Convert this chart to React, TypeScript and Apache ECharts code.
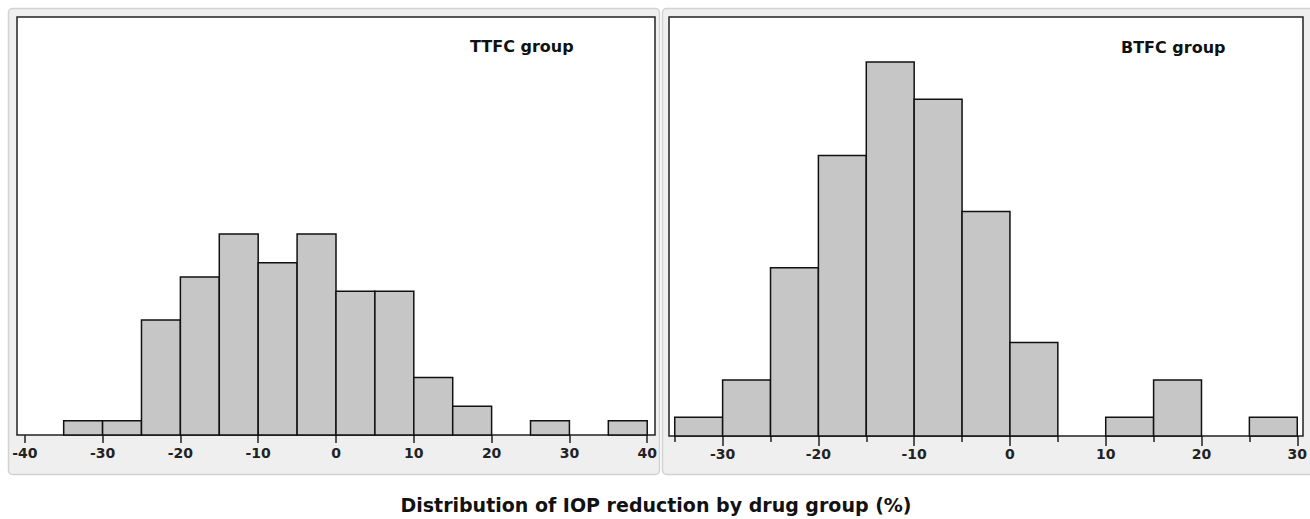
import React, { useEffect, useRef } from "react";
import * as echarts from "echarts";

const ttfcBinStarts = [-35, -30, -25, -20, -15, -10, -5, 0, 5, 10, 15, 20, 25, 30, 35];
const ttfcCounts = [1, 1, 8, 11, 14, 12, 14, 10, 10, 4, 2, 0, 1, 0, 1];
const btfcBinStarts = [-35, -30, -25, -20, -15, -10, -5, 0, 5, 10, 15, 20, 25];
const btfcCounts = [1, 3, 9, 15, 20, 18, 12, 5, 0, 1, 3, 0, 1];
const binWidth = 5;
const ttfcTicks = [-40, -30, -20, -10, 0, 10, 20, 30, 40];
const btfcTicks = [-30, -20, -10, 0, 10, 20, 30];
const btfcMinorTicks = [-35, -25, -15, -5, 5, 15, 25];
const panelTitles = ["TTFC group", "BTFC group"];
const mainTitle = "Distribution of IOP reduction by drug group (%)";

const FONT = "'DejaVu Sans', Verdana, sans-serif";

function histData(starts: number[], counts: number[]) {
  return starts.map((s, i) => [s, s + binWidth, counts[i]]);
}

function renderBar(params: any, api: any) {
  const x0 = api.value(0);
  const x1 = api.value(1);
  const c = api.value(2);
  if (!c) return null;
  const p0 = api.coord([x0, c]);
  const p1 = api.coord([x1, 0]);
  return {
    type: "rect",
    shape: { x: p0[0], y: p0[1], width: p1[0] - p0[0], height: p1[1] - p0[1] },
    style: { fill: "#c6c6c6", stroke: "#111", lineWidth: 1.5 },
  };
}

export default function App() {
  const ref = useRef<HTMLDivElement>(null);
  useEffect(() => {
    document.body.style.margin = "0";
    const chart = echarts.init(ref.current!, null, { renderer: "svg" });
    const labelStyle = {
      fontFamily: FONT,
      fontWeight: "bold" as const,
      fontSize: 14,
      color: "#222",
      margin: 11,
    };
    chart.setOption({
      animation: false,
      backgroundColor: "#ffffff",
      graphic: [
        {
          type: "rect",
          z: -10,
          shape: { x: 8.5, y: 8.5, width: 651, height: 466, r: 4 },
          style: { fill: "#efefef", stroke: "#d2d2d2", lineWidth: 1.5 },
        },
        {
          type: "rect",
          z: -10,
          shape: { x: 662.5, y: 8.5, width: 652, height: 466, r: 4 },
          style: { fill: "#efefef", stroke: "#d2d2d2", lineWidth: 1.5 },
        },
        {
          type: "text",
          z: 10,
          x: 470,
          y: 46,
          style: {
            text: panelTitles[0],
            font: `bold 16px ${FONT}`,
            fill: "#111",
            textVerticalAlign: "middle",
          },
        },
        {
          type: "text",
          z: 10,
          x: 1121,
          y: 47,
          style: {
            text: panelTitles[1],
            font: `bold 16px ${FONT}`,
            fill: "#111",
            textVerticalAlign: "middle",
          },
        },
        {
          type: "text",
          x: 656,
          y: 505,
          style: {
            text: mainTitle,
            font: `bold 19px ${FONT}`,
            fill: "#111",
            textAlign: "center",
            textVerticalAlign: "middle",
          },
        },
      ],
      grid: [
        {
          left: 17,
          top: 17,
          width: 638,
          height: 418,
          show: true,
          backgroundColor: "#ffffff",
          borderColor: "#222",
          borderWidth: 1.5,
        },
        {
          left: 669,
          top: 17,
          width: 636,
          height: 419,
          show: true,
          backgroundColor: "#ffffff",
          borderColor: "#222",
          borderWidth: 1.5,
        },
      ],
      xAxis: [
        {
          type: "value",
          gridIndex: 0,
          position: "bottom",
          min: -41,
          max: 41,
          splitLine: { show: false },
          axisLine: { show: false },
          axisTick: {
            show: true,
            length: 8,
            customValues: ttfcTicks,
            lineStyle: { color: "#222", width: 1.5 },
          },
          axisLabel: { ...labelStyle, customValues: ttfcTicks },
        },
        {
          type: "value",
          gridIndex: 1,
          position: "bottom",
          min: -35.6,
          max: 30.6,
          splitLine: { show: false },
          axisLine: { show: false },
          axisTick: {
            show: true,
            length: 10,
            customValues: btfcTicks,
            lineStyle: { color: "#222", width: 1.5 },
          },
          axisLabel: { ...labelStyle, customValues: btfcTicks },
        },
        {
          type: "value",
          gridIndex: 1,
          position: "bottom",
          offset: 0,
          min: -35.6,
          max: 30.6,
          splitLine: { show: false },
          axisLine: { show: false },
          axisTick: {
            show: true,
            length: 6,
            customValues: btfcMinorTicks,
            lineStyle: { color: "#222", width: 1.5 },
          },
          axisLabel: { show: false },
        },
      ],
      yAxis: [
        { type: "value", gridIndex: 0, min: 0, max: 29.1, show: false, splitLine: { show: false } },
        { type: "value", gridIndex: 1, min: 0, max: 22.4, show: false, splitLine: { show: false } },
      ],
      series: [
        {
          type: "custom",
          xAxisIndex: 0,
          yAxisIndex: 0,
          renderItem: renderBar,
          encode: { x: [0, 1], y: 2 },
          data: histData(ttfcBinStarts, ttfcCounts),
        },
        {
          type: "custom",
          xAxisIndex: 1,
          yAxisIndex: 1,
          renderItem: renderBar,
          encode: { x: [0, 1], y: 2 },
          data: histData(btfcBinStarts, btfcCounts),
        },
      ],
    });
    return () => chart.dispose();
  }, []);
  return <div ref={ref} style={{ width: 1310, height: 519 }} />;
}
